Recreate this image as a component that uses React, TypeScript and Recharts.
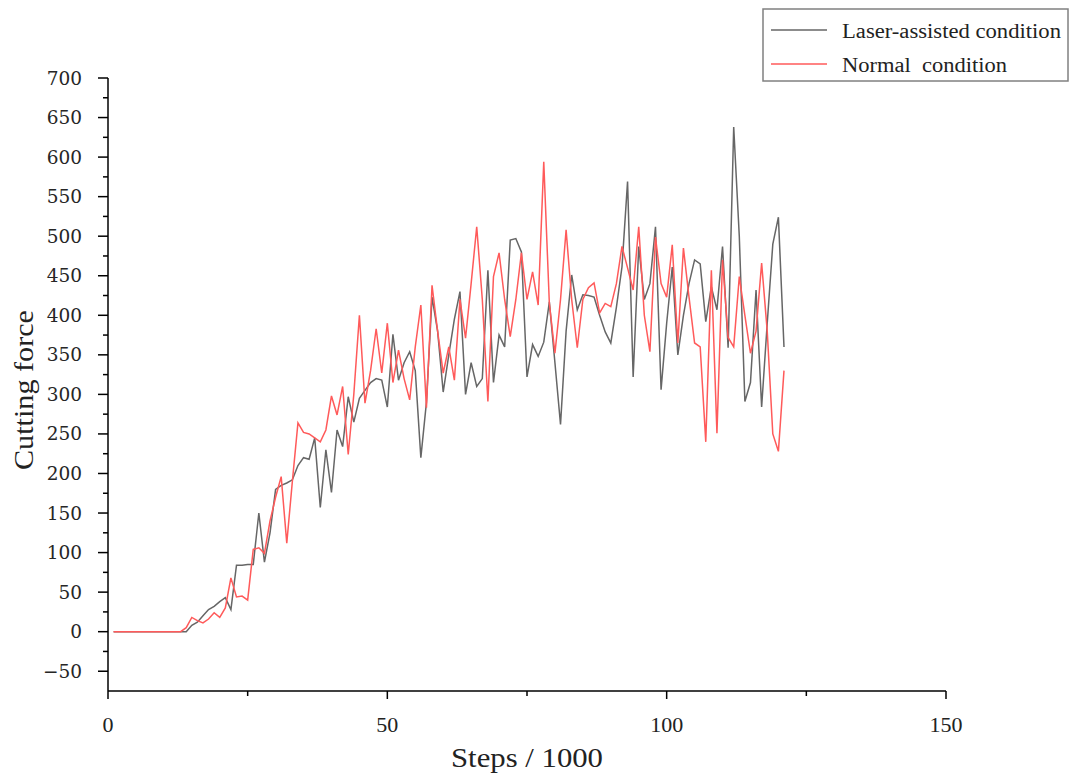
import React from 'react';
import { LineChart, Line, XAxis, YAxis, Legend } from 'recharts';

// steps (x 1000)
const steps = [
  1, 2, 3, 4, 5, 6, 7, 8, 9, 10, 11, 12, 13, 14, 15, 16, 17, 18, 19, 20,
  21, 22, 23, 24, 25, 26, 27, 28, 29, 30, 31, 32, 33, 34, 35, 36, 37, 38, 39, 40,
  41, 42, 43, 44, 45, 46, 47, 48, 49, 50, 51, 52, 53, 54, 55, 56, 57, 58, 59, 60,
  61, 62, 63, 64, 65, 66, 67, 68, 69, 70, 71, 72, 73, 74, 75, 76, 77, 78, 79, 80,
  81, 82, 83, 84, 85, 86, 87, 88, 89, 90, 91, 92, 93, 94, 95, 96, 97, 98, 99, 100,
  101, 102, 103, 104, 105, 106, 107, 108, 109, 110, 111, 112, 113, 114, 115, 116, 117, 118, 119, 120,
  121,
];

const laserForce = [
  0, 0, 0, 0, 0, 0, 0, 0, 0, 0,
  0, 0, 0, 0, 8, 12, 20, 28, 32, 38,
  43, 28, 84, 84, 85, 85, 150, 88, 125, 180,
  185, 188, 192, 210, 220, 218, 245, 157, 230, 176,
  255, 234, 297, 265, 295, 305, 315, 320, 318, 284,
  376, 318, 340, 354, 330, 220, 290, 423, 380, 303,
  350, 395, 430, 300, 340, 310, 320, 457, 315, 375,
  360, 495, 497, 480, 322, 363, 348, 366, 417, 340,
  262, 380, 451, 407, 426, 425, 423, 400, 379, 365,
  410, 461, 569, 322, 487, 420, 440, 512, 306, 390,
  461, 350, 400, 440, 470, 465, 392, 436, 407, 487,
  359, 638, 500, 291, 315, 432, 284, 390, 490, 524,
  360,
];

const normalForce = [
  0, 0, 0, 0, 0, 0, 0, 0, 0, 0,
  0, 0, 0, 5, 18, 14, 11, 16, 24, 18,
  30, 68, 44, 45, 40, 104, 106, 99, 140, 170,
  196, 112, 190, 264, 252, 250, 245, 240, 255, 298,
  274, 310, 224, 300, 400, 289, 330, 383, 327, 390,
  315, 356, 320, 293, 360, 413, 283, 438, 380, 327,
  360, 318, 420, 371, 440, 512, 420, 291, 449, 479,
  420, 373, 420, 479, 420, 455, 413, 594, 415, 352,
  420, 508, 420, 359, 420, 435, 441, 403, 415, 411,
  440, 487, 460, 432, 512, 400, 354, 499, 440, 423,
  489, 365, 485, 423, 365, 360, 240, 457, 251, 470,
  372, 360, 449, 400, 352, 380, 466, 380, 250, 228,
  330,
];

const xTicks = [0, 25, 50, 75, 100, 125, 150];
const yTicks = [
  -50, -25, 0, 25, 50, 75, 100, 125, 150, 175, 200, 225, 250, 275, 300, 325,
  350, 375, 400, 425, 450, 475, 500, 525, 550, 575, 600, 625, 650, 675, 700,
];

const data = steps.map((s, i) => ({ step: s, laser: laserForce[i], normal: normalForce[i] }));

const times = { fontFamily: "'Liberation Serif', serif" };

const XTick = (props: any) => {
  const { x, y, payload } = props;
  const major = payload.value % 50 === 0;
  return (
    <g>
      <line x1={x} y1={y} x2={x} y2={y + (major ? 8 : 5)} stroke="#000" strokeWidth={1.5} />
      {major && (
        <text x={x} y={y + 41} textAnchor="middle" style={times} fontSize={22} fill="#222">
          {payload.value}
        </text>
      )}
    </g>
  );
};

const YTick = (props: any) => {
  const { x, y, payload } = props;
  const major = payload.value % 50 === 0;
  return (
    <g>
      <line x1={x - (major ? 10 : 5)} y1={y} x2={x} y2={y} stroke="#000" strokeWidth={1.5} />
      {major && (
        <text x={x - 26} y={y + 6.5} textAnchor="end" style={{ fontFamily: "'DejaVu Serif', serif" }} fontSize={18.5} fill="#262626">
          {payload.value < 0 ? `\u2212${-payload.value}` : payload.value}
        </text>
      )}
    </g>
  );
};

const LegendBox = (props: any) => {
  const { payload } = props;
  const widths = [219, 165];
  return (
    <svg width={310} height={76}>
      <rect x={1} y={1} width={305} height={72} fill="#fff" stroke="#808080" strokeWidth={1.5} />
      {(payload || []).map((entry: any, i: number) => (
        <g key={entry.value}>
          <line x1={9} x2={65} y1={22 + i * 34} y2={22 + i * 34} stroke={entry.color} strokeWidth={1.5} />
          <text
            x={80}
            y={30 + i * 34}
            style={{ ...times, whiteSpace: 'pre' }}
            fontSize={20}
            fill="#222"
            textLength={widths[i]}
            lengthAdjust="spacingAndGlyphs"
          >
            {entry.value}
          </text>
        </g>
      ))}
    </svg>
  );
};

const App: React.FC = () => {
  return (
    <div style={{ position: 'absolute', left: 0, top: 0, width: 1081, height: 784, background: '#fff' }}>
      <LineChart width={1081} height={784} data={data} margin={{ top: 78, right: 135, bottom: 63, left: 48 }}>
        <XAxis
          dataKey="step"
          type="number"
          domain={[0, 150]}
          ticks={xTicks}
          interval={0}
          height={30}
          tickSize={0}
          tickMargin={0}
          tickLine={false}
          axisLine={{ stroke: '#000', strokeWidth: 1.5 }}
          tick={<XTick />}
          label={{
            content: () => (
              <text x={527} y={767} textAnchor="middle" style={times} fontSize={27} fill="#222" textLength={152} lengthAdjust="spacingAndGlyphs">
                Steps / 1000
              </text>
            ),
          }}
        />
        <YAxis
          type="number"
          domain={[-75, 700]}
          ticks={yTicks}
          interval={0}
          width={60}
          allowDataOverflow
          tickSize={0}
          tickMargin={0}
          tickLine={false}
          axisLine={{ stroke: '#000', strokeWidth: 1.5 }}
          tick={<YTick />}
          label={{
            content: () => (
              <text
                x={33}
                y={390}
                transform="rotate(-90 33 390)"
                textAnchor="middle"
                style={times}
                fontSize={27}
                fill="#222"
                textLength={160}
                lengthAdjust="spacingAndGlyphs"
              >
                Cutting force
              </text>
            ),
          }}
        />
        <Legend
          layout="vertical"
          align="center"
          verticalAlign="middle"
          content={<LegendBox />}
          wrapperStyle={{ left: 762, top: 8, width: 310, height: 76 }}
        />
        <Line
          type="linear"
          dataKey="laser"
          name="Laser-assisted condition"
          stroke="#666666"
          strokeWidth={1.5}
          dot={false}
          isAnimationActive={false}
        />
        <Line
          type="linear"
          dataKey="normal"
          name={'Normal\u00a0 condition'}
          stroke="#ff5a5a"
          strokeWidth={1.5}
          dot={false}
          isAnimationActive={false}
        />
      </LineChart>
    </div>
  );
};

export default App;
